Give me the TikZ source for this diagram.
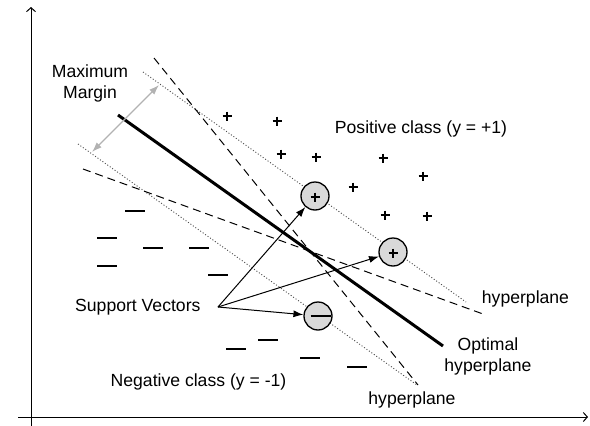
\documentclass[tikz,border=0pt]{standalone}
\usepackage{fontspec}
\setmainfont{Liberation Sans}
\usetikzlibrary{arrows.meta}
\tikzset{
  lbl/.style={inner sep=0pt, font=\fontsize{17.6}{21}\selectfont, align=center},
  plusmark/.style={line width=1.4pt},
  minussign/.style={line width=1.2pt},
  axis/.style={line width=1pt, -{Straight Barb[length=4pt,width=9pt]}},
  optline/.style={line width=3pt},
  marginline/.style={line width=0.9pt, draw=black!70, dash pattern=on 1pt off 2pt},
  hypline/.style={line width=1pt, dash pattern=on 8pt off 5pt},
  sv/.style={circle, draw, line width=1.3pt, fill=black!15, minimum size=28pt, inner sep=0pt},
  svarrow/.style={line width=1pt, -{Latex[length=10pt,width=7pt]}},
  gaparrow/.style={line width=1.2pt, draw=black!30, {Latex[length=10pt,width=7pt]}-{Latex[length=10pt,width=7pt]}}
}
\begin{document}
\begin{tikzpicture}[x=1pt,y=-1pt]
\useasboundingbox (0,0) rectangle (590,426);
% axes
\coordinate (ybot) at (31,426);
\coordinate (ytop) at (31,7);
\coordinate (xl) at (18,417);
\coordinate (xr) at (588,417);
\draw[axis] (ybot) -- (ytop);
\draw[axis] (xl) -- (xr);
% lines
\coordinate (o1) at (118,115); \coordinate (o2) at (443,346);
\coordinate (u1) at (143,72);  \coordinate (u2) at (466,302);
\coordinate (l1) at (78,144);  \coordinate (l2) at (417,385);
\coordinate (s1) at (154,58);  \coordinate (s2) at (418,385);
\coordinate (h1) at (83,169);  \coordinate (h2) at (483,314);
\draw[marginline] (u1) -- (u2);
\draw[marginline] (l1) -- (l2);
\draw[hypline] (s1) -- (s2);
\draw[hypline] (h1) -- (h2);
\draw[optline] (o1) -- (o2);
% margin arrow
\coordinate (m1) at (159,85); \coordinate (m2) at (92,152);
\draw[gaparrow] (m2) -- (m1);
% support vectors
\node[sv] (sv1) at (315,196) {};
\node[sv] (sv2) at (393,252) {};
\node[sv] (sv3) at (318,316) {};
% plus signs
\foreach \p/\q in {227/116, 277/121, 281/154, 316/157, 383/158, 423/176, 353/187, 385/215, 427/216, 315/197, 393/253}
  \draw[plusmark] (\p-4.5,\q) -- (\p+4.5,\q) (\p,\q-4.5) -- (\p,\q+4.5);
% minus signs
\foreach \p/\q in {135/211, 107/238, 153/248, 199/248, 107/266, 218/275, 236/349, 268/340, 310/358, 357/367, 320.5/316}
  \draw[minussign] (\p-10,\q) -- (\p+10,\q);
% labels
\node[lbl] (mm) at (90,83) {Maximum\\Margin};
\node[lbl] (pos) at (421,129) {Positive class (y = +1)};
\node[lbl, anchor=west] (svt) at (75,307) {Support Vectors};
\node[lbl] (neg) at (198.5,382) {Negative class (y = -1)};
\node[lbl] (hp1) at (525.5,299) {hyperplane};
\node[lbl] (opt) at (488,356) {Optimal\\hyperplane};
\node[lbl] (hp2) at (412,400) {hyperplane};
\coordinate (so) at (218,307);
\draw[svarrow] (so) -- (sv1);
\draw[svarrow] (so) -- (sv2);
\draw[svarrow] (so) -- (sv3);
\end{tikzpicture}
\end{document}
